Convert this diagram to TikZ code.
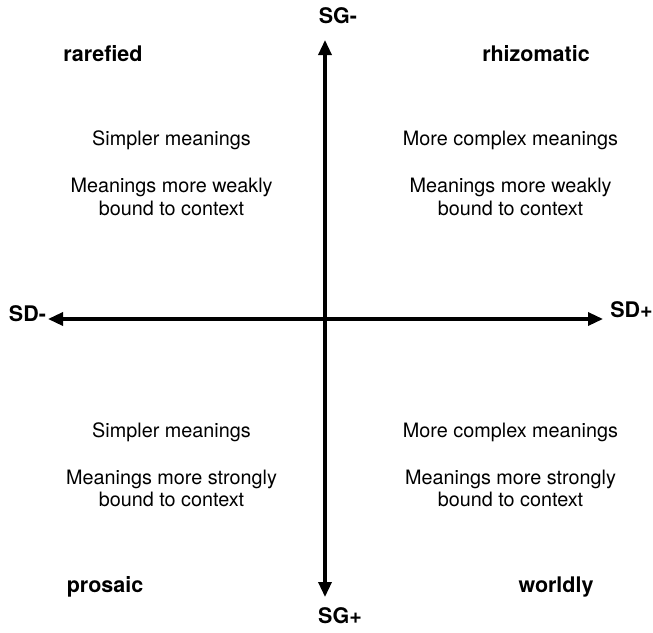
\documentclass[tikz,border=0pt]{standalone}
\usepackage{fontspec}
\setmainfont{TeX Gyre Heros}
\usetikzlibrary{arrows.meta}
\tikzset{
  axis/.style={line width=3.3pt, {Triangle[length=15pt,width=13pt]}-{Triangle[length=15pt,width=13pt]}},
  lbl/.style={font=\fontsize{21.5}{24}\selectfont\bfseries, anchor=base, inner sep=0pt},
  body/.style={font=\fontsize{19.8}{23}\selectfont, anchor=base, inner sep=0pt}
}
\begin{document}
\begin{tikzpicture}[x=1pt,y=-1pt]
\useasboundingbox (0,0) rectangle (653,632);
\coordinate (top) at (325,40);
\coordinate (bot) at (325,597);
\coordinate (lft) at (48,319);
\coordinate (rgt) at (603,319);
\draw[axis] (lft) -- (rgt);
\draw[axis] (top) -- (bot);
% axis labels
\node[lbl] (sgm) at (338,23.3) {SG-};
\node[lbl] (sgp) at (340,623.3) {SG+};
\node[lbl] (sdm) at (27.5,321.5) {SD-};
\node[lbl] (sdp) at (631.5,317) {SD+};
% quadrant labels
\node[lbl] (rar) at (103,61.7) {rarefied};
\node[lbl] (rhi) at (536,61.7) {rhizomatic};
\node[lbl] (pro) at (105,592.5) {prosaic};
\node[lbl] (wor) at (556,592.5) {worldly};
% body text
\node[body] (tl1) at (171.5,145) {Simpler meanings};
\node[body] (tl2) at (171.5,192.3) {Meanings more weakly};
\node[body] (tl3) at (171.5,215) {bound to context};
\node[body] (tr1) at (510.5,145) {More complex meanings};
\node[body] (tr2) at (510.5,192.3) {Meanings more weakly};
\node[body] (tr3) at (510.5,215) {bound to context};
\node[body] (bl1) at (171.5,437) {Simpler meanings};
\node[body] (bl2) at (171.5,484) {Meanings more strongly};
\node[body] (bl3) at (171.5,506.7) {bound to context};
\node[body] (br1) at (510.5,437) {More complex meanings};
\node[body] (br2) at (510.5,484) {Meanings more strongly};
\node[body] (br3) at (510.5,506.7) {bound to context};
\end{tikzpicture}
\end{document}
